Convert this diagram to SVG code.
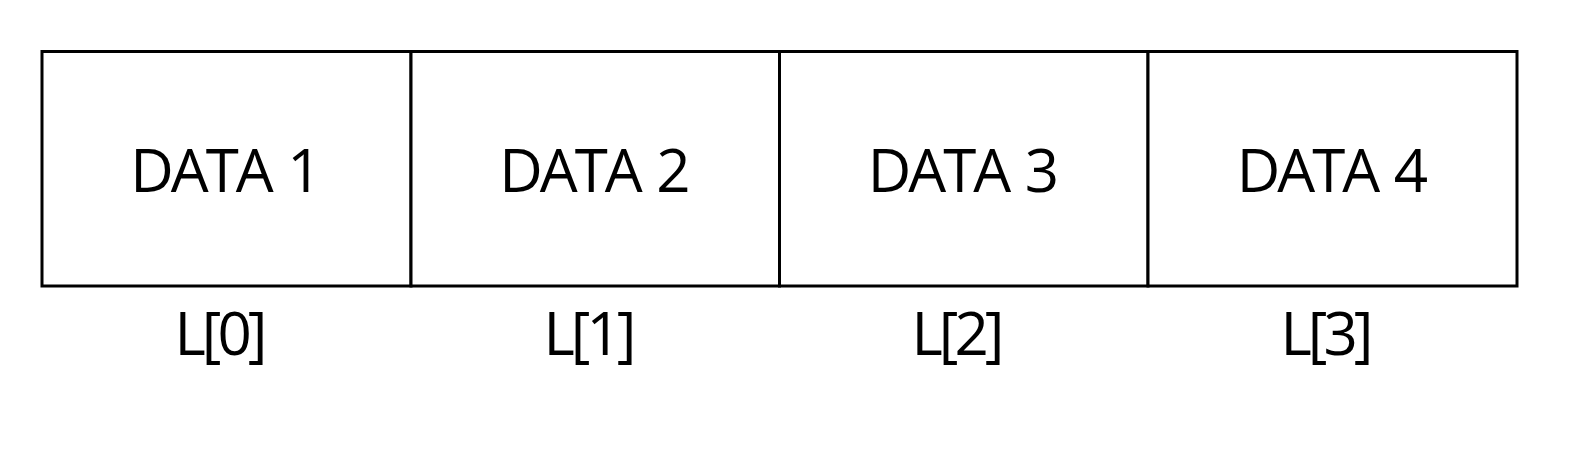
<svg xmlns="http://www.w3.org/2000/svg" width="1570" height="457" viewBox="0 0 1570 457">
<style>
.cell{fill:#fff;stroke:#000;stroke-width:3}
.t{font-family:"Open Sans","Noto Sans",sans-serif;font-size:60px;fill:#000;text-anchor:middle;letter-spacing:-3px;word-spacing:4px}
.l{font-family:"Open Sans","Noto Sans",sans-serif;font-size:60px;fill:#000;text-anchor:middle;letter-spacing:-4px}
</style>
<rect width="1570" height="457" fill="#fff"/>
<g id="cell0"><rect class="cell" x="42" y="51.5" width="369" height="234.5"/><text class="t" x="224.5" y="192">DATA 1</text><text class="l" x="219" y="355">L[0]</text></g>
<g id="cell1"><rect class="cell" x="411" y="51.5" width="368.5" height="234.5"/><text class="t" x="593.5" y="192">DATA 2</text><text class="l" x="588" y="355">L[1]</text></g>
<g id="cell2"><rect class="cell" x="779.5" y="51.5" width="368.5" height="234.5"/><text class="t" x="962" y="192">DATA 3</text><text class="l" x="956" y="355">L[2]</text></g>
<g id="cell3"><rect class="cell" x="1148" y="51.5" width="369" height="234.5"/><text class="t" x="1331" y="192">DATA 4</text><text class="l" x="1325" y="355">L[3]</text></g>
<g id="connectors"/>
</svg>
